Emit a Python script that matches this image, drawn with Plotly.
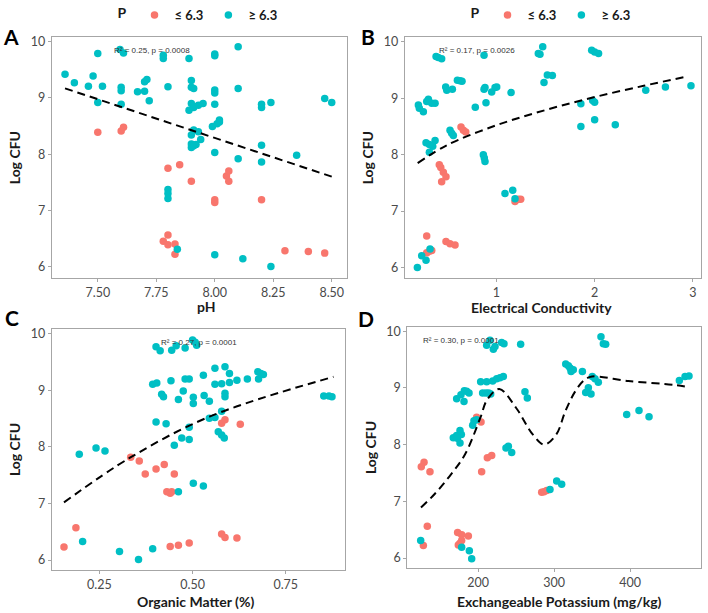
import plotly.graph_objects as go

RED = "#F8766D"
TEAL = "#00BFC4"
FONT = "Lato"

# ---------------- Panel A : pH ----------------
ph_low_x = [7.50, 7.60, 7.61, 7.80, 7.85, 7.90, 8.05, 8.06, 8.06, 8.00, 8.00, 8.20,
            7.80, 7.78, 7.80, 7.83, 7.83, 8.30, 8.40, 8.47]
ph_low_y = [8.39, 8.41, 8.48, 7.75, 7.81, 7.52, 7.61, 7.70, 7.52, 7.19, 7.14, 7.19,
            6.56, 6.45, 6.39, 6.40, 6.22, 6.28, 6.27, 6.24]
ph_high_x = [7.36, 7.40, 7.46, 7.48, 7.50, 7.50, 7.52, 7.595, 7.61, 7.60, 7.60, 7.60,
             7.67, 7.70, 7.70, 7.71, 7.72, 7.78, 7.78, 7.80, 7.80, 7.80, 7.80, 7.84,
             7.89, 7.90, 7.90, 7.91, 7.90, 7.91, 7.89, 7.93, 7.95, 7.90, 7.91, 7.93,
             7.94, 7.90, 7.90, 7.91, 7.92, 8.00, 8.00, 8.00, 8.00, 8.00, 7.99, 8.01,
             8.02, 8.02, 8.00, 8.00, 8.10, 8.10, 8.10, 8.12, 8.20, 8.20, 8.24, 8.20,
             8.20, 8.24, 8.35, 8.47, 8.50]
ph_high_y = [9.42, 9.27, 9.21, 9.39, 9.79, 8.92, 9.21, 9.86, 9.80, 9.19, 9.13, 8.89,
             9.11, 9.12, 9.29, 9.33, 8.95, 9.76, 9.70, 9.20, 7.37, 7.30, 7.21, 6.31,
             9.70, 9.31, 9.19, 9.17, 8.90, 8.83, 8.78, 8.87, 8.90, 8.34, 8.43, 8.40,
             8.26, 8.18, 8.12, 8.15, 8.17, 9.78, 9.75, 9.14, 9.09, 8.89, 8.49, 8.54,
             8.57, 8.61, 8.03, 6.21, 9.91, 9.17, 7.92, 6.14, 8.89, 8.83, 8.92, 8.16,
             7.86, 6.00, 7.98, 8.99, 8.92]
ph_fit_x = [7.36, 8.50]
ph_fit_y = [9.17, 7.60]

# ---------------- Panel B : Electrical Conductivity ----------------
ec_low_x = [0.292, 0.292, 0.319, 0.343, 0.488, 0.529, 0.580,
            0.420, 0.435, 0.461, 0.488, 0.444,
            0.641, 0.665, 0.689, 1.190, 1.224, 1.248]
ec_low_y = [6.56, 6.26, 6.29, 6.30, 6.46, 6.42, 6.40,
            7.82, 7.77, 7.69, 7.61, 7.52,
            8.49, 8.43, 8.40, 7.17, 7.21, 7.21]
ec_high_x = [0.197, 0.241, 0.285, 0.326,
             0.207, 0.217, 0.258, 0.292, 0.309, 0.343, 0.377,
             0.285, 0.319, 0.353, 0.377, 0.319,
             0.387, 0.410, 0.444,
             0.485, 0.496, 0.553, 0.604, 0.631, 0.651,
             0.529, 0.546, 0.563,
             0.786, 0.875, 0.875, 0.885, 0.895, 0.953, 0.987, 1.004,
             0.868, 0.878, 0.885, 1.150, 1.088, 1.167, 1.190,
             1.427, 1.444, 1.472, 1.485, 1.519, 1.570,
             1.970, 2.000, 2.040, 1.860, 1.980, 2.000,
             1.860, 2.000, 2.210, 2.520, 2.720, 2.980]
ec_high_y = [6.00, 6.21, 6.13, 6.33,
             8.88, 8.82, 8.76, 8.94, 8.98, 8.91, 8.91,
             8.21, 8.18, 8.15, 8.25, 8.04,
             9.74, 9.72, 9.70,
             9.20, 9.14, 9.16, 9.32, 9.31, 9.30,
             8.43, 8.38, 8.34,
             8.84, 9.76, 9.16, 9.19, 8.92, 9.11, 9.19, 9.20,
             8.00, 7.94, 7.88, 9.10, 7.31, 7.37, 7.22,
             9.79, 9.78, 9.91, 9.28, 9.41, 9.40,
             9.85, 9.82, 9.79, 8.90, 8.96, 8.93,
             8.50, 8.62, 8.53, 9.14, 9.20, 9.22]
ec_fit_x = [0.20, 0.50, 1.00, 1.50, 2.00, 2.50, 2.93]
ec_fit_y = [7.85, 8.17, 8.52, 8.79, 9.02, 9.22, 9.38]

# ---------------- Panel C : Organic Matter ----------------
om_low_x = [0.155, 0.187, 0.440, 0.462, 0.491, 0.578, 0.587, 0.619,
            0.334, 0.357, 0.373, 0.402, 0.424, 0.451, 0.431, 0.440, 0.444,
            0.578, 0.587, 0.628]
om_low_y = [6.23, 6.57, 6.24, 6.26, 6.30, 6.46, 6.40, 6.39,
            7.82, 7.75, 7.52, 7.61, 7.69, 7.52, 7.21, 7.18, 7.21,
            8.42, 8.48, 8.40]
om_high_x = [0.196, 0.241, 0.265, 0.205, 0.304, 0.355, 0.393, 0.462, 0.502, 0.529,
             0.402, 0.429, 0.451, 0.471, 0.491, 0.491,
             0.402, 0.413, 0.444, 0.456, 0.480, 0.500, 0.507, 0.511,
             0.393, 0.404, 0.442, 0.480, 0.491, 0.529,
             0.417, 0.422, 0.462, 0.475, 0.502, 0.502, 0.531, 0.545, 0.545,
             0.560, 0.587, 0.599, 0.560, 0.578, 0.599, 0.619, 0.647,
             0.675, 0.683, 0.690, 0.677, 0.587, 0.587,
             0.852, 0.866, 0.874, 0.560, 0.578, 0.569, 0.578, 0.585]
om_high_y = [7.87, 7.98, 7.93, 6.33, 6.15, 6.01, 6.20, 7.21, 7.36, 7.31,
             8.44, 8.41, 8.03, 8.16, 8.13, 8.35,
             9.77, 9.70, 9.71, 9.79, 9.75, 9.89, 9.85, 9.80,
             9.11, 9.13, 9.17, 9.20, 9.20, 9.27,
             8.93, 8.89, 8.84, 8.99, 8.88, 8.77, 8.91, 8.81, 8.51,
             9.39, 9.42, 9.30, 9.11, 9.12, 9.14, 9.18, 9.20,
             9.33, 9.30, 9.28, 9.20, 8.95, 8.89,
             8.90, 8.90, 8.89, 8.52, 8.63, 8.27, 8.21, 8.16]
om_fit_x = [0.155, 0.332, 0.547, 0.878]
om_fit_y = [7.02, 7.81, 8.54, 9.24]

# ---------------- Panel D : Exchangeable Potassium ----------------
k_low_x = [128.1, 133.3, 173.2, 178.5, 187.3, 178.5, 176.3, 174.1,
           129.0, 125.4, 136.8, 204.8, 212.3, 218.0, 198.2, 204.0,
           283.8, 286.8, 290.4]
k_low_y = [6.22, 6.56, 6.45, 6.41, 6.39, 6.31, 6.26, 6.23,
           7.69, 7.61, 7.52, 7.52, 7.77, 7.81, 8.48, 8.40,
           7.16, 7.17, 7.19]
k_high_x = [124.6, 178.5, 188.6, 191.7,
            193.0, 194.7, 198.2,
            167.5, 171.9, 176.3, 178.1, 172.8, 176.3,
            171.9, 177.6, 181.6, 185.1, 188.2, 182.0,
            206.1, 210.5, 214.0, 216.7,
            203.5, 211.4, 219.3, 224.6, 228.9, 233.3,
            211.4, 215.8, 220.2, 222.4, 231.1, 234.2, 256.1,
            236.8, 239.9, 244.3, 261.8, 264.9,
            294.7, 303.5, 310.1,
            361.8, 364.9, 368.0,
            315.4, 318.9, 321.1, 322.4, 325.4, 337.3,
            350.4, 353.9, 358.3, 345.2, 341.7, 348.7,
            395.6, 411.8, 425.0, 464.9, 472.4, 477.6]
k_high_y = [6.31, 6.19, 6.13, 5.99,
            8.34, 8.42, 8.44,
            8.12, 8.16, 8.25, 8.18, 8.11, 8.03,
            8.81, 8.88, 8.76, 8.94, 8.91, 8.95,
            8.91, 8.91, 8.91, 8.89,
            9.11, 9.11, 9.12, 9.16, 9.18, 9.20,
            9.75, 9.84, 9.68, 9.73, 9.80, 9.78, 9.77,
            7.94, 7.97, 7.86, 8.93, 8.82,
            7.21, 7.36, 7.30,
            9.90, 9.78, 9.77,
            9.42, 9.39, 9.35, 9.29, 9.32, 9.29,
            9.20, 9.16, 9.10, 9.00, 8.92, 8.89,
            8.53, 8.60, 8.49, 9.13, 9.20, 9.21]
k_fit_x = [125, 143, 163, 183, 203, 212, 228, 250, 272, 287, 303, 315, 328, 340, 350, 398, 459, 477]
k_fit_y = [6.89, 7.13, 7.45, 7.83, 8.47, 8.79, 8.98, 8.65, 8.18, 8.00, 8.18, 8.59, 8.94, 9.14, 9.20, 9.12, 9.05, 9.01]

# ---------------- labels ----------------
group_labels = ["<b>≤ 6.3</b>", "<b>≥ 6.3</b>"]
x_titles = ["pH", "Electrical Conductivity", "Organic Matter (%)", "Exchangeable Potassium (mg/kg)"]
y_title = "Log CFU"
panel_letters = ["A", "B", "C", "D"]
stat_texts = ["R² = 0.25, p = 0.0008", "R² = 0.17, p = 0.0026",
              "R² = 0.27, p = 0.0001", "R² = 0.30, p = 0.0001"]
stat_pos = [(7.561, 9.85), (0.397, 9.85), (0.410, 9.85), (125, 9.84)]

x_tickvals = [[7.50, 7.75, 8.00, 8.25, 8.50], [1, 2, 3], [0.25, 0.50, 0.75], [200, 300, 400]]
x_ticktext = [["7.50", "7.75", "8.00", "8.25", "8.50"], ["1", "2", "3"],
              ["0.25", "0.50", "0.75"], ["200", "300", "400"]]
y_tickvals = [6, 7, 8, 9, 10]

panels = [
    (ph_low_x, ph_low_y, ph_high_x, ph_high_y, ph_fit_x, ph_fit_y, "linear"),
    (ec_low_x, ec_low_y, ec_high_x, ec_high_y, ec_fit_x, ec_fit_y, "spline"),
    (om_low_x, om_low_y, om_high_x, om_high_y, om_fit_x, om_fit_y, "spline"),
    (k_low_x, k_low_y, k_high_x, k_high_y, k_fit_x, k_fit_y, "spline"),
]

# layout geometry
W, H = 708, 613
x_domains = [[0.073, 0.4897], [0.5716, 0.9897], [0.073, 0.4873], [0.5753, 0.9897]]
y_domains = [[0.5497, 0.9457], [0.5497, 0.9457], [0.0701, 0.467], [0.0739, 0.4698]]
x_ranges = [[7.303, 8.564], [0.068, 3.079], [0.122, 0.909], [107, 493]]
y_ranges = [[5.793, 10.083], [5.81, 10.083], [5.819, 10.093], [5.825, 10.075]]
letter_pos = [(10.5, 32.5), (368, 32.5), (11.5, 316), (365.5, 316.5)]
xtitle_pos = [(206, 304), (541, 305), (195, 601.5), (559, 601.5)]

fig = go.Figure()

for i, (lx, ly, hx, hy, fx, fy, shape) in enumerate(panels):
    sfx = "" if i == 0 else str(i + 1)
    xa, ya = "x" + sfx, "y" + sfx
    leg = "legend" if i == 0 else "legend2"
    show = i in (0, 1)
    fig.add_trace(go.Scatter(x=lx, y=ly, mode="markers", name=group_labels[0],
                             marker=dict(color=RED, size=7.5), xaxis=xa, yaxis=ya,
                             legend=leg, showlegend=show, legendrank=1))
    fig.add_trace(go.Scatter(x=hx, y=hy, mode="markers", name=group_labels[1],
                             marker=dict(color=TEAL, size=7.5), xaxis=xa, yaxis=ya,
                             legend=leg, showlegend=show, legendrank=2))
    fig.add_trace(go.Scatter(x=fx, y=fy, mode="lines", showlegend=False,
                             line=dict(color="black", width=2, dash="8px,5px", shape=shape,
                                       smoothing=1.0),
                             xaxis=xa, yaxis=ya, hoverinfo="skip"))

axis_common = dict(showline=True, mirror=True, linecolor="#a6a6a6", linewidth=1,
                   ticks="outside", ticklen=3, tickcolor="#a6a6a6", showgrid=False,
                   zeroline=False,
                   tickfont=dict(family=FONT, size=12.5, color="#4a4a4a"))
title_font = dict(family=FONT, size=14, color="#1a1a1a")

layout = dict(width=W, height=H, margin=dict(l=0, r=0, t=0, b=0),
              paper_bgcolor="white", plot_bgcolor="white", showlegend=True)
for i in range(4):
    sfx = "" if i == 0 else str(i + 1)
    layout["xaxis" + sfx] = dict(axis_common, domain=x_domains[i], range=x_ranges[i],
                                 anchor="y" + sfx, tickvals=x_tickvals[i],
                                 ticktext=x_ticktext[i])
    layout["yaxis" + sfx] = dict(axis_common, domain=y_domains[i], range=y_ranges[i],
                                 anchor="x" + sfx, tickvals=y_tickvals,
                                 title=dict(text="<b>" + y_title + "</b>",
                                            font=title_font, standoff=6))

legend_common = dict(orientation="h", yanchor="middle", y=1 - 11 / H, xanchor="center",
                     font=dict(family=FONT, size=13, color="#1a1a1a"),
                     title=dict(text="<b>P</b>", font=dict(family=FONT, size=14, color="#1a1a1a")),
                     itemwidth=30, bgcolor="rgba(0,0,0,0)", tracegroupgap=0)
layout["legend"] = dict(legend_common, x=199 / W)
layout["legend2"] = dict(legend_common, x=552 / W)
fig.update_layout(**layout)

annotations = []
for i in range(4):
    sfx = "" if i == 0 else str(i + 1)
    annotations.append(dict(text=stat_texts[i], x=stat_pos[i][0], y=stat_pos[i][1],
                            xref="x" + sfx, yref="y" + sfx, showarrow=False,
                            xanchor="left", yanchor="middle",
                            font=dict(family="Liberation Sans", size=8, color="#333")))
    annotations.append(dict(text="<b>" + panel_letters[i] + "</b>",
                            x=letter_pos[i][0] / W, y=1 - letter_pos[i][1] / H,
                            xref="paper", yref="paper", showarrow=False,
                            xanchor="center", yanchor="middle",
                            font=dict(family=FONT, size=21, color="black")))
    annotations.append(dict(text="<b>" + x_titles[i] + "</b>",
                            x=xtitle_pos[i][0] / W, y=1 - xtitle_pos[i][1] / H,
                            xref="paper", yref="paper", showarrow=False,
                            xanchor="center", yanchor="middle", font=title_font))
fig.update_layout(annotations=annotations)

fig.write_html("out.html")
